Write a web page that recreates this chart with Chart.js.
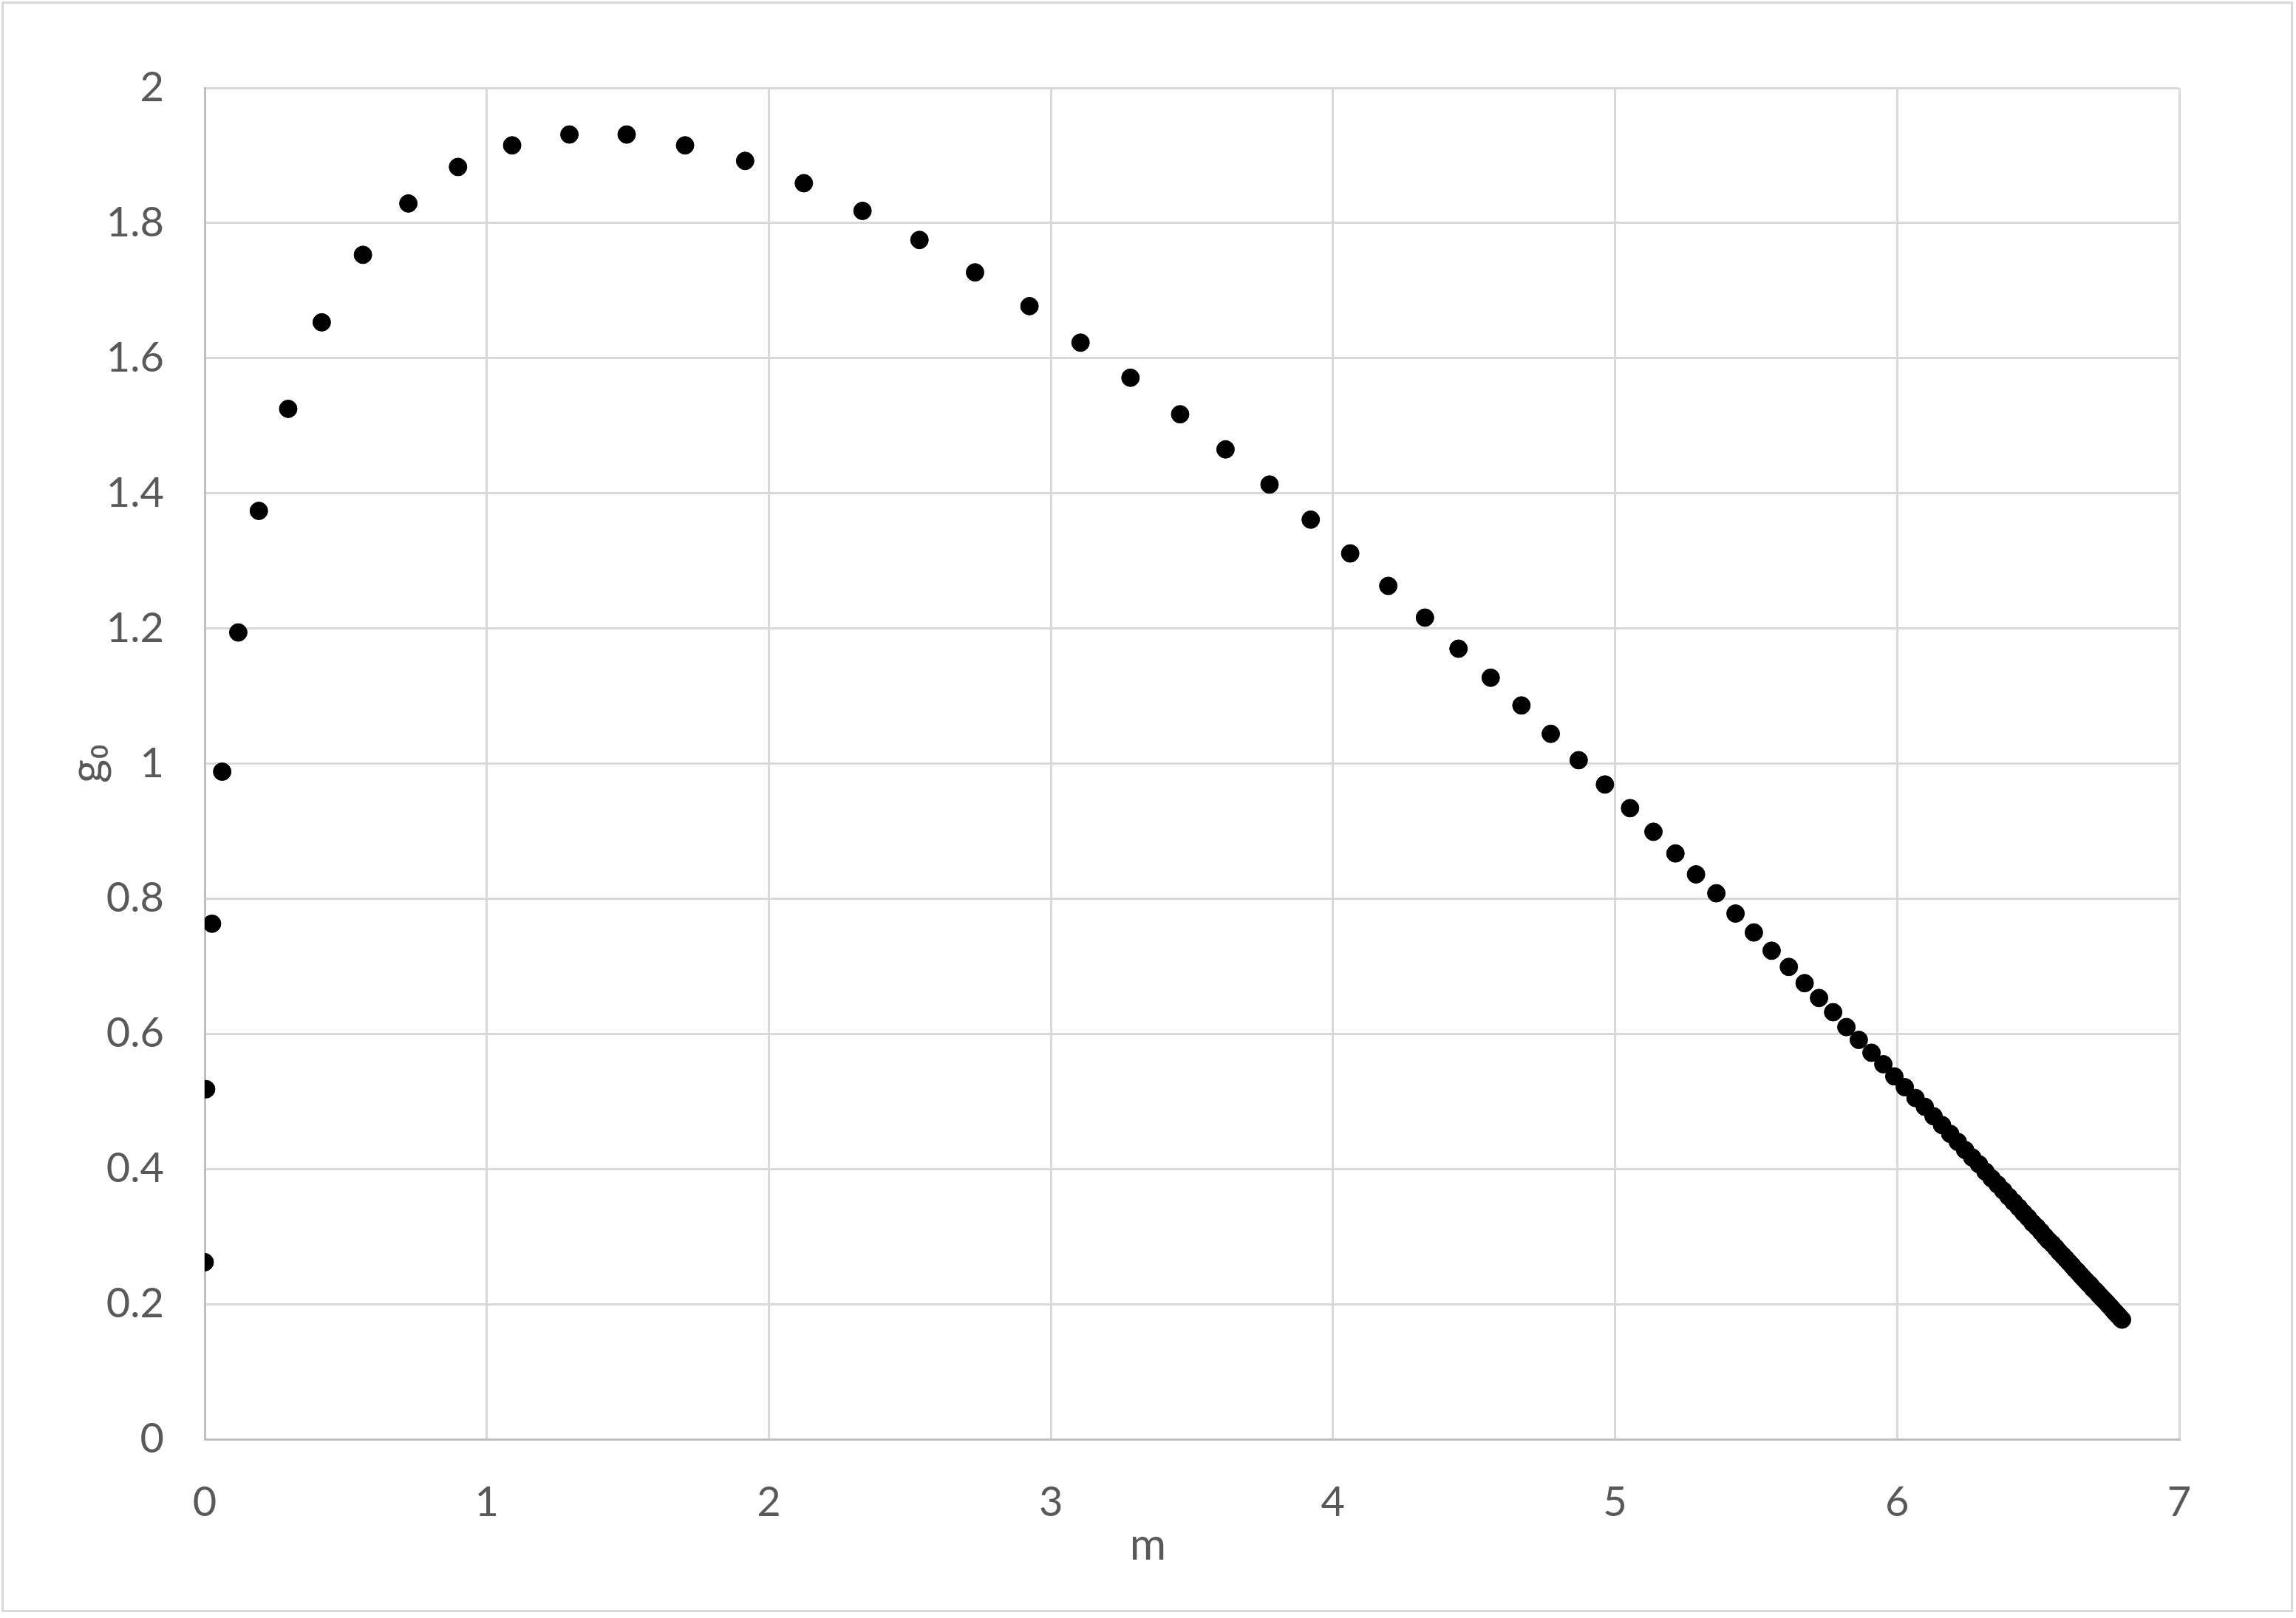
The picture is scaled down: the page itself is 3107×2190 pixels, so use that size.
<!DOCTYPE html>
<html>
<head>
<meta charset="utf-8">
<script src="https://cdn.jsdelivr.net/npm/chart.js@4.4.1/dist/chart.umd.min.js"></script>
<style>
  html, body { margin: 0; padding: 0; background: #ffffff; }
  #wrap { position: relative; width: 3107px; height: 2190px; background: #ffffff; }
  #frame { position: absolute; left: 2px; top: 2px; width: 3101px; height: 2180px; box-sizing: border-box; border: 3px solid #d9d9d9; pointer-events: none; }
  canvas { position: absolute; left: 0; top: 0; }
</style>
</head>
<body>
<div id="wrap">
  <canvas id="c" width="3107" height="2190"></canvas>
  <div id="frame"></div>
</div>
<script>
// ---- data ----
const mValues = [
  0.000, 0.005, 0.026, 0.062, 0.119, 0.192, 0.296, 0.415, 0.561, 0.722,
  0.898, 1.090, 1.293, 1.496, 1.703, 1.916, 2.124, 2.332, 2.534, 2.731,
  2.924, 3.105, 3.282, 3.458, 3.619, 3.775, 3.921, 4.061, 4.196, 4.326,
  4.445, 4.559, 4.668, 4.772, 4.871, 4.964, 5.053, 5.136, 5.214, 5.287,
  5.359, 5.427, 5.492, 5.555, 5.616, 5.672, 5.723, 5.773, 5.820, 5.864,
  5.909, 5.951, 5.990, 6.027, 6.065, 6.098, 6.129, 6.159, 6.188, 6.215,
  6.241, 6.266, 6.290, 6.313, 6.335, 6.356, 6.376, 6.395, 6.413, 6.431,
  6.448, 6.464, 6.480, 6.495, 6.510, 6.524, 6.537, 6.550, 6.563, 6.575,
  6.587, 6.598, 6.609, 6.620, 6.630, 6.640, 6.650, 6.659, 6.668, 6.677,
  6.685, 6.694, 6.702, 6.709, 6.717, 6.724, 6.731, 6.738, 6.745, 6.751,
  6.758, 6.764, 6.770, 6.775, 6.781, 6.786, 6.792, 6.797
];
const g0Values = [
  0.262, 0.518, 0.763, 0.988, 1.194, 1.374, 1.525, 1.653, 1.753, 1.829,
  1.883, 1.915, 1.931, 1.931, 1.915, 1.892, 1.859, 1.818, 1.775, 1.727,
  1.677, 1.623, 1.571, 1.517, 1.465, 1.413, 1.361, 1.311, 1.263, 1.216,
  1.170, 1.127, 1.086, 1.044, 1.005, 0.969, 0.934, 0.899, 0.867, 0.836,
  0.808, 0.778, 0.750, 0.723, 0.699, 0.675, 0.653, 0.632, 0.610, 0.591,
  0.572, 0.555, 0.537, 0.521, 0.505, 0.492, 0.478, 0.465, 0.452, 0.440,
  0.428, 0.417, 0.407, 0.396, 0.386, 0.377, 0.368, 0.359, 0.351, 0.343,
  0.335, 0.328, 0.320, 0.314, 0.307, 0.300, 0.294, 0.289, 0.283, 0.277,
  0.272, 0.267, 0.262, 0.257, 0.252, 0.248, 0.243, 0.239, 0.235, 0.231,
  0.228, 0.223, 0.220, 0.217, 0.213, 0.210, 0.207, 0.204, 0.201, 0.198,
  0.195, 0.192, 0.189, 0.187, 0.184, 0.182, 0.179, 0.177
];
const xTickLabels = ['0', '1', '2', '3', '4', '5', '6', '7'];
const yTickLabels = ['0', '0.2', '0.4', '0.6', '0.8', '1', '1.2', '1.4', '1.6', '1.8', '2'];
const xTitle = 'm';
const yTitle = 'g\u2080';

// ---- build chart ----
const points = mValues.map((m, i) => ({ x: m, y: g0Values[i] }));
const FONT = 'Lato, "Open Sans", "DejaVu Sans", sans-serif';
const PLOT = { left: 277, right: 2949, top: 119, bottom: 1948, W: 3107, H: 2190 };
const TEXT_COLOR = '#595959';

// x-axis title centred on the whole chart area (as in the reference)
const xTitlePlugin = {
  id: 'xTitlePlugin',
  afterDraw(chart) {
    const ctx = chart.ctx;
    ctx.save();
    ctx.fillStyle = TEXT_COLOR;
    ctx.font = '60px ' + FONT;
    ctx.textAlign = 'center';
    ctx.textBaseline = 'middle';
    ctx.fillText(xTitle, chart.width / 2, 2092);
    ctx.restore();
  }
};

new Chart(document.getElementById('c'), {
  type: 'scatter',
  data: {
    datasets: [{
      data: points,
      showLine: false,
      pointStyle: 'circle',
      pointRadius: 12,
      pointHoverRadius: 12,
      pointBackgroundColor: '#000000',
      pointBorderColor: '#000000',
      pointBorderWidth: 1
    }]
  },
  plugins: [xTitlePlugin],
  options: {
    responsive: false,
    animation: false,
    devicePixelRatio: 1,
    events: [],
    layout: { padding: { left: 0, top: PLOT.top, right: PLOT.W - PLOT.right, bottom: 0 } },
    plugins: { legend: { display: false }, tooltip: { enabled: false }, title: { display: false } },
    scales: {
      x: {
        type: 'linear',
        min: 0, max: 7,
        afterFit: (s) => { s.height = PLOT.H - PLOT.bottom; },
        grid: { color: '#d9d9d9', lineWidth: 3, drawTicks: false },
        border: { color: '#bfbfbf', width: 3 },
        ticks: {
          stepSize: 1,
          padding: 52,
          color: TEXT_COLOR,
          font: { family: FONT, size: 56 },
          callback: (v) => { const i = Math.round(v); return (Math.abs(v - i) < 1e-9 && xTickLabels[i] !== undefined) ? xTickLabels[i] : ''; }
        },
        title: { display: false }
      },
      y: {
        type: 'linear',
        min: 0, max: 2,
        afterFit: (s) => { s.width = PLOT.left; },
        grid: { color: '#d9d9d9', lineWidth: 3, drawTicks: false },
        border: { color: '#bfbfbf', width: 3 },
        ticks: {
          stepSize: 0.2,
          padding: 55,
          color: TEXT_COLOR,
          font: { family: FONT, size: 56 },
          callback: (v) => { const i = Math.round(v * 5); return (Math.abs(v * 5 - i) < 1e-6 && yTickLabels[i] !== undefined) ? yTickLabels[i] : ''; }
        },
        title: {
          display: true, text: yTitle, color: TEXT_COLOR,
          font: { family: FONT, size: 62 },
          padding: { top: 82, bottom: 0 }
        }
      }
    }
  }
});
</script>
</body>
</html>
